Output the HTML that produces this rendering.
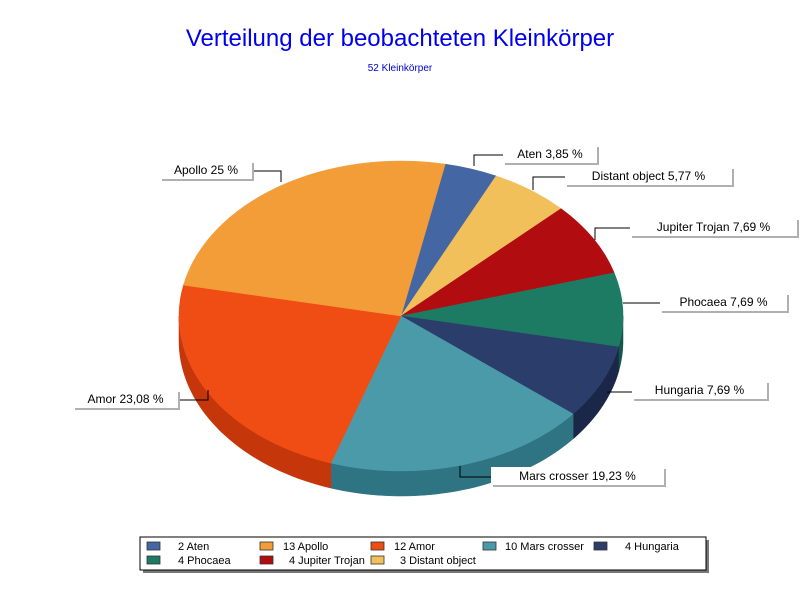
<!DOCTYPE html>
<html><head><meta charset="utf-8"><style>
body{margin:0;background:#fff;}
svg{display:block;font-family:"Liberation Sans",sans-serif;}
</style></head><body>
<svg id="s" width="800" height="600" viewBox="0 0 800 600" xmlns="http://www.w3.org/2000/svg">
<text x="400" y="46" text-anchor="middle" font-size="24" fill="#0000ee">Verteilung der beobachteten Kleinkörper</text>
<text x="400" y="71" text-anchor="middle" font-size="10" fill="#0000cc">52 Kleinkörper</text>
<g id="pie"></g>
<g id="lab" font-size="12" fill="#000"></g>
<g font-size="11">
<rect x="143" y="540" width="566" height="33" fill="#777"/>
<rect x="140" y="537" width="566" height="33" fill="#fff" stroke="#000"/>
<g stroke="#333" stroke-width="0.8">
<rect x="147" y="542" width="13" height="8" fill="#4466a3"/>
<rect x="260" y="542" width="13" height="8" fill="#f29d38"/>
<rect x="371" y="542" width="13" height="8" fill="#ef4d14"/>
<rect x="483" y="542" width="13" height="8" fill="#4b9aaa"/>
<rect x="594" y="542" width="13" height="8" fill="#2b3d6b"/>
<rect x="147" y="556" width="13" height="8" fill="#1e7b63"/>
<rect x="260" y="556" width="13" height="8" fill="#b10c10"/>
<rect x="371" y="556" width="13" height="8" fill="#f2c05a"/>
</g>
<text x="178" y="550">2 Aten</text>
<text x="283" y="550">13 Apollo</text>
<text x="394" y="550">12 Amor</text>
<text x="505" y="550">10 Mars crosser</text>
<text x="625" y="550">4 Hungaria</text>
<text x="178" y="564">4 Phocaea</text>
<text x="289" y="564">4 Jupiter Trojan</text>
<text x="400" y="564">3 Distant object</text>
</g>
</svg>
<script>
var cx=401,cy=316,rx=222,ry=155,D=25,NS="http://www.w3.org/2000/svg";
var sl=[[3.85,"#4466a3","#2e4a7c"],[5.77,"#f2c05a","#c99a3e"],[7.69,"#b10c10","#7e0808"],[7.69,"#1e7b63","#13574a"],[7.69,"#2b3d6b","#1a2748"],[19.23,"#4b9aaa","#2f7482"],[23.08,"#ef4d14","#c5360a"],[25,"#f29d38","#c97a22"]];
var g=document.getElementById("pie");
function P(a,dy){var r=a*Math.PI/180;return [cx+rx*Math.cos(r),cy+ry*Math.sin(r)+(dy||0)];}
function add(d,f){var p=document.createElementNS(NS,"path");p.setAttribute("d",d);p.setAttribute("fill",f);p.setAttribute("stroke",f);p.setAttribute("stroke-width","0.5");g.appendChild(p);}
var a=-78.5,arr=[];
sl.forEach(function(s){var b=a+s[0]*3.6;arr.push([a,b,s]);a=b;});
arr.forEach(function(t){var s=Math.max(t[0],0),e=Math.min(t[1],180);
 if(t[0]>180){s=Math.max(t[0]-360,0);e=Math.min(t[1]-360,180);}
 if(e<=s)return;
 var d="M",pts=[],i;
 for(i=0;i<=40;i++){var q=P(s+(e-s)*i/40);pts.push(q);}
 d+=pts.map(function(q){return q[0].toFixed(1)+","+q[1].toFixed(1)}).join(" L");
 for(i=40;i>=0;i--){d+=" L"+pts[i][0].toFixed(1)+","+(pts[i][1]+D).toFixed(1);}
 add(d+"Z",t[2][2]);});
arr.forEach(function(t){var p1=P(t[0]),p2=P(t[1]);var large=(t[1]-t[0])>180?1:0;
 add("M"+cx+","+cy+" L"+p1[0]+","+p1[1]+" A"+rx+","+ry+" 0 "+large+" 1 "+p2[0]+","+p2[1]+"Z",t[2][1]);});
var L=document.getElementById("lab");
var labs=[["Aten 3,85 %",503,145,94,"M474,166 L474,155 L503,155"],
["Distant object 5,77 %",565,167,167,"M533,190 L533,177 L565,177"],
["Jupiter Trojan 7,69 %",630,218,167,"M595,240 L595,228 L630,228"],
["Phocaea 7,69 %",660,293,127,"M623,303 L660,303"],
["Hungaria 7,69 %",632,381,135,"M607,392 L632,392"],
["Mars crosser 19,23 %",491,467,173,"M460,466 L460,477 L491,477"],
["Amor 23,08 %",73,390,105,"M208,390 L208,400 L178,400"],
["Apollo 25 %",160,161,92,"M252,171 L281,171 L281,182"]];
var h="";
labs.forEach(function(l){h+='<path d="'+l[4]+'" fill="none" stroke="#000" stroke-width="1"/>';
 h+='<rect x="'+(l[1]+2)+'" y="'+(l[2]+2)+'" width="'+l[3]+'" height="18" fill="#b0b0b0"/>';
 h+='<rect x="'+l[1]+'" y="'+l[2]+'" width="'+l[3]+'" height="18" fill="#fff"/>';
 h+='<text x="'+(l[1]+l[3]/2)+'" y="'+(l[2]+13)+'" text-anchor="middle">'+l[0]+'</text>';});
L.innerHTML=h;
</script>
</body></html>
